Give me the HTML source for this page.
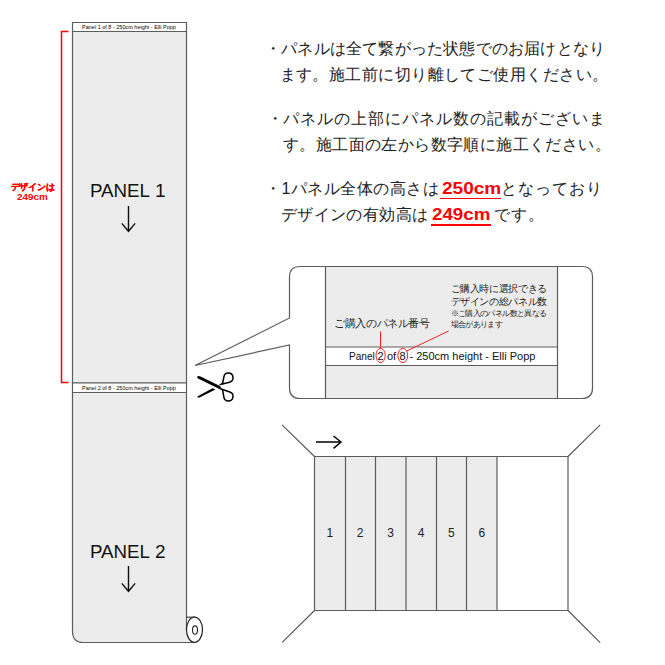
<!DOCTYPE html>
<html><head><meta charset="utf-8">
<style>
html,body{margin:0;padding:0;background:#fff;}
body{width:665px;height:665px;position:relative;overflow:hidden;font-family:"Liberation Sans",sans-serif;color:#222;}
svg{position:absolute;left:0;top:0;}
.t{position:absolute;white-space:nowrap;}
.jp{font-size:16px;line-height:26px;color:#222;}
.red{color:#ff0000;}
.b{font-weight:bold;}
.cp{top:349px;font-size:11px;line-height:14px;color:#111;}
.pl{font-size:19px;line-height:26px;color:#111;transform:scaleX(0.985);transform-origin:0 0;}
.ul{position:absolute;height:2px;background:#ff0000;}
</style></head>
<body>
<svg width="665" height="665" viewBox="0 0 665 665">
  <!-- panel 1 -->
  <rect x="72.5" y="22.5" width="114" height="360.5" fill="#ececec"/>
  <rect x="72.5" y="22.5" width="114" height="9" fill="#fff"/>
  <path d="M72.5 22.5 H186.5 V383 H72.5 Z M72.5 31.5 H186.5" fill="none" stroke="#5c5c5c" stroke-width="1.2"/>
  <!-- panel 2 -->
  <path d="M72.5 392.5 H186.5 V630 L194 642.5 H82 Q72.5 642.5 72.5 632 Z" fill="#ececec"/>
  <rect x="72.5" y="383" width="114" height="9.5" fill="#fff"/>
  <path d="M72.5 383 V631 Q72.5 642.5 83 642.5 H194.5" fill="none" stroke="#5c5c5c" stroke-width="1.2"/>
  <path d="M186.5 383 V630 M72.5 383 H186.5 M72.5 392.5 H186.5" fill="none" stroke="#5c5c5c" stroke-width="1.2"/>
  <path d="M186.5 617.2 H195" stroke="#333" stroke-width="1.1"/>
  <ellipse cx="194.5" cy="629.7" rx="8" ry="12.6" fill="#fff" stroke="#222" stroke-width="1.2"/>
  <ellipse cx="195" cy="630.1" rx="2.5" ry="4.2" fill="none" stroke="#222" stroke-width="1.1"/>
  <!-- red bracket -->
  <path d="M68.5 31.5 H61.5 V382.5 H68.5" fill="none" stroke="#ff0000" stroke-width="1.5"/>
  <!-- arrows panel -->
  <path d="M128.5 206 V230.5 M121.8 223.4 L128.5 231.3 L135.2 223.4" fill="none" stroke="#111" stroke-width="1.4"/>
  <path d="M128.5 566 V590.5 M121.8 583.4 L128.5 591.3 L135.2 583.4" fill="none" stroke="#111" stroke-width="1.4"/>
  <!-- callout -->
  <path d="M289.5 318 V277 Q289.5 266.5 300 266.5 H582 Q592.5 266.5 592.5 277 V388 Q592.5 398.5 582 398.5 H300 Q289.5 398.5 289.5 388 V345 L195 365.5 Z" fill="#fff"/>
  <rect x="325.5" y="266.5" width="232" height="132" fill="#ececec"/>
  <rect x="325.5" y="347" width="232" height="18.5" fill="#fff"/>
  <path d="M289.5 318 V277 Q289.5 266.5 300 266.5 H582 Q592.5 266.5 592.5 277 V388 Q592.5 398.5 582 398.5 H300 Q289.5 398.5 289.5 388 V345 L195 365.5 Z" fill="none" stroke="#5c5c5c" stroke-width="1.2" stroke-linejoin="miter"/>
  <path d="M325.5 266.5 V398.5 M557.5 266.5 V398.5 M325.5 347 H557.5 M325.5 365.5 H557.5" stroke="#5c5c5c" stroke-width="1.2"/>
  <!-- red annotation -->
  <ellipse cx="380.6" cy="355.5" rx="4.6" ry="7.1" fill="none" stroke="#ff2020" stroke-width="1"/>
  <ellipse cx="402.8" cy="355.5" rx="4.9" ry="7.1" fill="none" stroke="#ff2020" stroke-width="1"/>
  <path d="M380.5 331.5 V348.4 M406.3 351.2 L448.6 331" stroke="#ff2020" stroke-width="1"/>
  <!-- scissors -->
  <g fill="#000">
    <path d="M197.2 376.6 Q198.5 375.6 200.5 376.4 L220.5 386.2 L220 389.2 L198 378.5 Q196.8 377.6 197.2 376.6 Z"/>
    <path d="M197.3 396.6 L212.5 388.3 L215.5 389.6 L199.5 397.6 Q197.6 398.2 197.3 396.6 Z"/>
    <path d="M219 386.5 L223.5 389.5 L223 391 L218.5 388.5 Z"/>
    <path d="M219.3 384.2 L223 382.6 L223.6 384 L219.9 385.5 Z"/>
  </g>
  <g fill="none" stroke="#000" stroke-width="1.5" stroke-linejoin="round">
    <path d="M222.5 384.0 L223.88 376.83 A4.6 4.6 0 1 1 229.57 382.15 Z"/>
    <path d="M222.5 389.5 L229.90 392.05 A4.6 4.6 0 1 1 223.87 397.21 Z"/>
  </g>
  <!-- room -->
  <rect x="314.5" y="456.5" width="182.5" height="154" fill="#ececec"/>
  <path d="M314.5 456.5 H568 V610.5 H314.5 Z" fill="none" stroke="#5c5c5c" stroke-width="1.2"/>
  <path d="M345.5 456.5 V610.5 M375.5 456.5 V610.5 M406 456.5 V610.5 M436.5 456.5 V610.5 M466.5 456.5 V610.5 M497 456.5 V610.5" stroke="#5c5c5c" stroke-width="1.2"/>
  <path d="M282 424.8 L314.5 456.5 M600.2 424.9 L568 456.5 M282.2 642.4 L314.5 610.5 M600.2 642.7 L568 610.5" stroke="#555" stroke-width="1.1"/>
  <path d="M316 442 H340.5 M333.5 436 L341 442 L333.5 448.4" fill="none" stroke="#000" stroke-width="1.5"/>
</svg>

<!-- panel header texts -->
<div class="t" style="left:72px;top:22px;width:114px;text-align:center;font-size:5.5px;line-height:10px;color:#000;">Panel 1 of 8 - 250cm height - Elli Popp</div>
<div class="t" style="left:72px;top:383px;width:114px;text-align:center;font-size:5.5px;line-height:10px;color:#000;">Panel 2 of 8 - 250cm height - Elli Popp</div>
<div class="t pl" style="left:90.3px;top:178px;">PANEL</div><div class="t pl" style="left:155px;top:178px;transform:none;">1</div>
<div class="t pl" style="left:90.3px;top:539px;">PANEL</div><div class="t pl" style="left:155px;top:539px;transform:none;">2</div>

<div class="t red b" style="left:10.5px;top:181.5px;font-size:9px;line-height:11px;letter-spacing:-0.2px;-webkit-text-stroke:0.25px #ff0000;">デザインは</div>
<div class="t red b" style="left:17px;top:192px;font-size:9.3px;line-height:11px;transform:scaleX(1.06);transform-origin:0 0;">249cm</div>

<!-- right text -->
<div class="t jp" style="left:265px;top:35.5px;letter-spacing:0.2px;">・パネルは全て繋がった状態でのお届けとなり</div>
<div class="t jp" style="left:279.5px;top:61.5px;letter-spacing:0.45px;">ます。施工前に切り離してご使用ください。</div>
<div class="t jp" style="left:266.5px;top:105.5px;letter-spacing:0.97px;">・パネルの上部にパネル数の記載がございま</div>
<div class="t jp" style="left:283px;top:131.5px;letter-spacing:0.4px;">す。施工面の左から数字順に施工ください。</div>
<div class="t jp" style="left:265px;top:175.5px;letter-spacing:0.47px;">・1パネル全体の高さは</div>
<div class="t jp red b" style="left:442px;top:175.5px;transform:scaleX(1.19);transform-origin:0 0;">250cm</div>
<div class="t jp" style="left:500.6px;top:175.5px;letter-spacing:1px;">となっており</div>
<div class="t jp" style="left:281px;top:201.5px;letter-spacing:0.37px;">デザインの有効高は</div>
<div class="t jp red b" style="left:432px;top:201.5px;transform:scaleX(1.17);transform-origin:0 0;">249cm</div>
<div class="t jp" style="left:494px;top:201.5px;letter-spacing:1.1px;">です。</div>
<div class="ul" style="left:440px;top:197.7px;width:61px;height:1.7px;"></div>
<div class="ul" style="left:431px;top:224.4px;width:60px;height:1.7px;"></div>

<!-- callout texts -->
<div class="t" style="left:334px;top:316.5px;font-size:10.5px;line-height:13px;letter-spacing:-0.37px;color:#222;">ご購入のパネル番号</div>
<div class="t" style="left:450.5px;top:282px;font-size:9.5px;line-height:13.2px;letter-spacing:-0.37px;color:#222;">ご購入時に選択できる<br>デザインの総パネル数</div>
<div class="t" style="left:450.5px;top:309.4px;font-size:7.5px;line-height:10.4px;letter-spacing:-0.62px;color:#222;">※ご購入のパネル数と異なる<br>場合があります</div>
<div class="t cp" style="left:348.5px;transform:scaleX(0.915);transform-origin:0 0;">Panel</div>
<div class="t cp" style="left:377.5px;">2</div>
<div class="t cp" style="left:387px;">of</div>
<div class="t cp" style="left:399.5px;">8</div>
<div class="t cp" style="left:409.5px;">- 250cm height - Elli Popp</div>

<!-- room numbers -->
<div class="t" style="left:314.5px;top:526px;width:30.5px;text-align:center;font-size:12px;line-height:14px;color:#222;">1</div>
<div class="t" style="left:345px;top:526px;width:30.4px;text-align:center;font-size:12px;line-height:14px;color:#222;">2</div>
<div class="t" style="left:375.4px;top:526px;width:30.4px;text-align:center;font-size:12px;line-height:14px;color:#222;">3</div>
<div class="t" style="left:405.8px;top:526px;width:30.4px;text-align:center;font-size:12px;line-height:14px;color:#222;">4</div>
<div class="t" style="left:436.2px;top:526px;width:30.4px;text-align:center;font-size:12px;line-height:14px;color:#222;">5</div>
<div class="t" style="left:466.6px;top:526px;width:30.4px;text-align:center;font-size:12px;line-height:14px;color:#222;">6</div>
</body></html>
